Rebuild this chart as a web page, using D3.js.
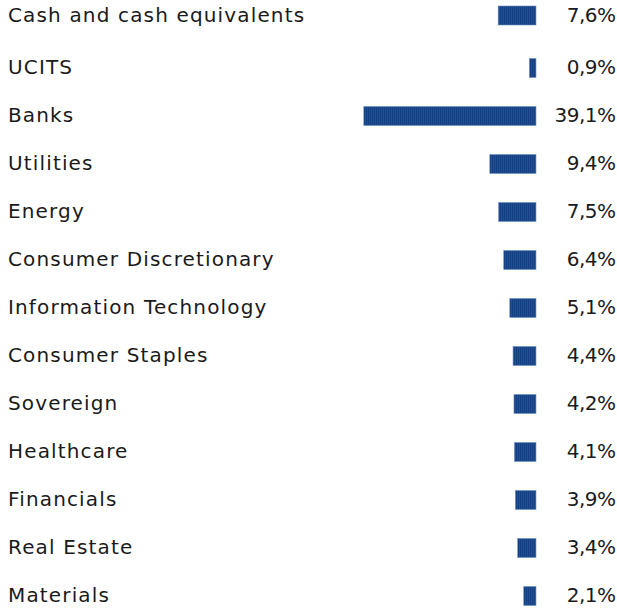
<!DOCTYPE html>
<html><head><meta charset="utf-8">
<script src="https://cdn.jsdelivr.net/npm/d3@7"></script>
<style>html,body{margin:0;padding:0;background:#fff;}</style>
</head><body>
<svg id="chart" width="617" height="611"></svg>
<script>
const categories = ["Cash and cash equivalents","UCITS","Banks","Utilities","Energy","Consumer Discretionary","Information Technology","Consumer Staples","Sovereign","Healthcare","Financials","Real Estate","Materials"];
const values = [7.6,0.9,39.1,9.4,7.5,6.4,5.1,4.4,4.2,4.1,3.9,3.4,2.1];
const valueLabels = ["7,6%","0,9%","39,1%","9,4%","7,5%","6,4%","5,1%","4,4%","4,2%","4,1%","3,9%","3,4%","2,1%"];

const svg = d3.select("#chart");
const font = "'DejaVu Sans', sans-serif";
const defs = svg.append("defs");
const pat = defs.append("pattern").attr("id","stripes").attr("patternUnits","userSpaceOnUse")
  .attr("width",2).attr("height",4);
pat.append("rect").attr("width",2).attr("height",4).attr("fill","#1f4f96");
pat.append("rect").attr("width",1).attr("height",4).attr("fill","#173f7d");

const y = d3.scalePoint().domain(categories).range([20, 596]);
// longest bar is capped in the reference
const x = d3.scaleLinear().domain([0, 36.5]).range([0, 169.7]).clamp(true);
const barRight = 536, barH = 19, minW = 2.5;
const yc = (d,i) => y(d) - (i===0 ? 4.5 : 0);

const g = svg.append("g");
const rows = g.selectAll("g.row").data(categories).join("g").attr("class","row");
rows.append("text")
  .attr("x", 8).attr("y", (d,i)=>yc(d,i) - 1.2).attr("dy","0.36em")
  .attr("font-family", font).attr("font-size", 20).attr("letter-spacing", 1.15).attr("fill","#1a1a1a")
  .text(d=>d);
rows.append("rect")
  .attr("x", (d,i)=> barRight - minW - x(values[i]))
  .attr("width", (d,i)=> minW + x(values[i]))
  .attr("y", (d,i)=> yc(d,i) - barH/2).attr("height", barH)
  .attr("fill","url(#stripes)").attr("stroke","#6f8fc4").attr("stroke-width",0.6);
rows.append("text")
  .attr("x", 615.5).attr("y", (d,i)=>yc(d,i) - 1.2).attr("dy","0.36em").attr("text-anchor","end")
  .attr("font-family", font).attr("font-size", 20).attr("letter-spacing", -0.5).attr("fill","#1a1a1a")
  .text((d,i)=>valueLabels[i]);
</script>
</body></html>
